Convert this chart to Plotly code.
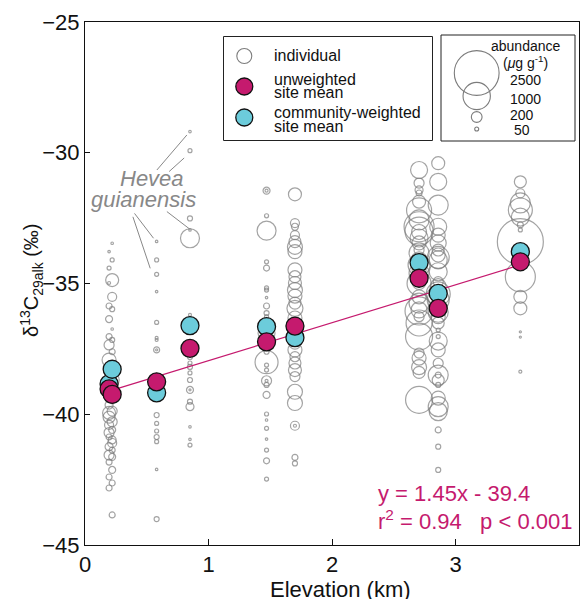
import plotly.graph_objects as go

# ---------------- data ----------------
site_elev = [0.195, 0.22, 0.58, 0.85, 1.47, 1.70, 2.705, 2.86, 3.525]
mean_unweighted = [-39.03, -39.24, -38.76, -37.48, -37.23, -36.63, -34.80, -35.95, -34.17]
mean_weighted = [-38.84, -38.28, -39.18, -36.61, -36.65, -37.07, -34.20, -35.38, -33.78]

fit_slope = 1.45
fit_intercept = -39.4

d13c_s1 = [-33.78, -34.41, -34.98, -35.86, -36.36, -37.03, -37.35, -37.93, -38.50, -39.26,
           -39.65, -40.11, -40.41, -40.87, -41.24, -41.56, -41.83, -42.40, -42.82, -39.95, -40.70]
abund_s1 = [30, 50, 36, 84, 104, 84, 179, 309, 127, 179, 127, 239, 152, 84, 127, 179, 84, 84, 84,
            273, 179]

d13c_s2 = [-33.46, -34.10, -34.87, -35.51, -35.98, -36.74, -37.16, -37.61, -38.23, -38.69,
           -39.45, -39.88, -40.29, -40.60, -40.98, -41.37, -41.63, -42.13, -42.63, -43.85, -41.10]
abund_s2 = [30, 50, 273, 152, 66, 30, 66, 84, 84, 309, 127, 179, 179, 104, 127, 84, 104, 104, 84,
            84, 152]

d13c_s3 = [-33.39, -34.10, -34.65, -35.31, -36.49, -37.08, -37.16, -37.54, -37.54, -40.03,
           -40.35, -40.64, -40.87, -41.05, -42.11, -44.01]
abund_s3 = [30, 50, 50, 30, 50, 36, 36, 84, 25, 66, 50, 50, 66, 50, 30, 66]

d13c_s4 = [-29.19, -29.92, -32.51, -32.95, -33.27, -36.20, -37.81, -38.04, -38.19, -38.42,
           -38.69, -39.07, -39.07, -39.52, -39.71, -40.48, -40.96, -41.18]
abund_s4 = [30, 50, 66, 30, 522, 36, 66, 50, 66, 50, 66, 104, 25, 66, 127, 30, 30, 50]

d13c_s5 = [-31.45, -31.45, -32.41, -32.98, -34.17, -34.41, -35.17, -35.25, -35.54, -35.86,
           -36.13, -36.27, -36.89, -37.61, -38.01, -38.12, -38.31, -38.72, -38.72, -38.88,
           -39.26, -39.99, -40.22, -40.54, -40.95, -41.37, -41.78, -42.48]
abund_s5 = [104, 36, 50, 522, 50, 84, 50, 50, 30, 84, 66, 50, 430, 66, 732, 50, 50, 179, 36, 66,
            104, 50, 30, 50, 30, 50, 84, 50]

d13c_s6 = [-31.59, -32.69, -32.83, -33.15, -33.40, -33.60, -33.78, -34.48, -34.74, -34.98,
           -35.25, -35.48, -35.75, -35.95, -36.32, -36.78, -37.28, -37.54, -37.80, -38.04,
           -38.31, -38.56, -39.14, -39.57, -40.44, -40.44, -41.65, -41.88]
abund_s6 = [273, 152, 104, 152, 239, 347, 309, 309, 239, 273, 347, 309, 239, 388, 309, 273, 239,
            309, 179, 239, 273, 179, 347, 347, 152, 36, 84, 66]

d13c_s7 = [-30.66, -31.16, -31.42, -31.54, -31.87, -32.57, -32.83, -33.03, -33.26, -33.45,
           -33.72, -33.83, -34.10, -34.29, -34.48, -34.98, -35.51, -35.75, -36.01, -36.27,
           -36.51, -37.03, -37.66, -37.85, -39.45, -32.20, -33.00, -35.00, -36.05, -38.20,
           -38.40, -34.60]
abund_s7 = [430, 179, 127, 84, 273, 571, 1185, 347, 475, 309, 179, 571, 388, 676, 309, 273, 309,
            571, 388, 179, 913, 977, 179, 309, 977, 850, 1050, 790, 1050, 347, 239, 571]

d13c_s8 = [-30.40, -31.11, -32.00, -32.83, -33.15, -33.45, -33.72, -33.91, -34.10, -34.55,
           -34.93, -35.12, -35.63, -36.27, -36.51, -36.78, -37.03, -37.54, -38.05, -38.50,
           -38.50, -38.88, -39.38, -39.71, -40.60, -41.24, -42.13, -34.00, -35.40, -36.10,
           -37.20, -39.90, -38.70]
abund_s8 = [273, 430, 571, 430, 309, 388, 239, 309, 475, 475, 179, 388, 676, 309, 239, 50, 50,
            309, 179, 571, 84, 66, 309, 571, 84, 66, 66, 676, 790, 571, 475, 475, 239]

d13c_s9 = [-31.11, -31.55, -31.92, -32.19, -32.46, -32.76, -32.95, -33.40, -34.74, -35.51,
           -35.95, -36.85, -37.05, -38.37]
abund_s9 = [239, 152, 571, 790, 475, 84, 50, 2628, 1185, 273, 273, 25, 25, 36]

individual_d13c = [d13c_s1, d13c_s2, d13c_s3, d13c_s4, d13c_s5, d13c_s6, d13c_s7, d13c_s8, d13c_s9]
individual_abund = [abund_s1, abund_s2, abund_s3, abund_s4, abund_s5, abund_s6, abund_s7, abund_s8, abund_s9]

legend_abund = [2500, 1000, 200, 50]

# ---------------- styling ----------------
FONT = "Liberation Sans, Arial, Helvetica, sans-serif"
MAGENTA = "#C51A6E"
CYAN = "#6CCCDB"
GRAY = "#7c7c7c"

W, H = 584, 599
L, R, T, B = 85, 579, 22, 545


def size_of(a):
    return max(0.95 * a ** 0.5 - 2.7, 2.0)


def px(x):
    return (x - L) / (R - L)


def py(y):
    return (B - y) / (B - T)


def text(x, y, t, size, color="#111", xanchor="center", angle=0):
    return dict(xref="paper", yref="paper", x=px(x), y=py(y), text=t, showarrow=False,
                xanchor=xanchor, yanchor="middle", textangle=angle,
                font=dict(family=FONT, size=size, color=color))


fig = go.Figure()

# individual leaves
xs, ys, ss = [], [], []
for e, dl, al in zip(site_elev, individual_d13c, individual_abund):
    for d, a in zip(dl, al):
        xs.append(e)
        ys.append(d)
        ss.append(size_of(a))
fig.add_trace(go.Scatter(
    x=xs, y=ys, mode="markers",
    marker=dict(symbol="circle-open", size=ss, color=GRAY, line=dict(width=1.2, color=GRAY)),
    hoverinfo="skip", showlegend=False))

# regression line
x0, x1 = min(site_elev), max(site_elev)
fig.add_trace(go.Scatter(
    x=[x0, x1], y=[fit_slope * x0 + fit_intercept, fit_slope * x1 + fit_intercept],
    mode="lines", line=dict(color=MAGENTA, width=1.3), showlegend=False, hoverinfo="skip"))

# community-weighted means
fig.add_trace(go.Scatter(
    x=site_elev, y=mean_weighted, mode="markers",
    marker=dict(size=18, color=CYAN, line=dict(width=1.3, color="#111")), showlegend=False))
# unweighted means
fig.add_trace(go.Scatter(
    x=site_elev, y=mean_unweighted, mode="markers",
    marker=dict(size=18, color=MAGENTA, line=dict(width=1.3, color="#111")), showlegend=False))

shapes = []
annotations = []

# Hevea guianensis pointer lines (data coordinates)
hevea_lines = [((0.582, -30.66), (0.825, -29.32)),
               ((0.681, -30.72), (0.803, -30.20)),
               ((0.663, -32.25), (0.851, -32.93)),
               ((0.401, -32.32), (0.555, -33.27)),
               ((0.388, -32.45), (0.528, -34.42))]
for (a, b) in hevea_lines:
    shapes.append(dict(type="line", xref="x", yref="y", x0=a[0], y0=a[1], x1=b[0], y1=b[1],
                       line=dict(color="#888888", width=1)))
annotations.append(text(152, 178, "<i>Hevea</i>", 22, "#888888"))
annotations.append(text(143, 199, "<i>guianensis</i>", 22, "#888888"))

# legend box 1
shapes.append(dict(type="rect", xref="paper", yref="paper", x0=px(223.5), x1=px(432.5),
                   y0=py(140.5), y1=py(36.5), line=dict(color="#222", width=1), fillcolor="white"))


def circle(cx, cy, d, fill, line, lw):
    r = d / 2
    return dict(type="circle", xref="paper", yref="paper", x0=px(cx - r), x1=px(cx + r),
                y0=py(cy + r), y1=py(cy - r), fillcolor=fill, line=dict(color=line, width=lw))


shapes.append(circle(244.3, 56, 15, "rgba(0,0,0,0)", GRAY, 1.1))
shapes.append(circle(244.3, 86.5, 17, MAGENTA, "#111", 1.3))
shapes.append(circle(244.3, 117.5, 17, CYAN, "#111", 1.3))

leg_txt = [("individual", 55), ("unweighted", 79), ("site mean", 92.5),
           ("community-weighted", 112), ("site mean", 126)]
for t, y in leg_txt:
    annotations.append(text(272, y, t, 16, xanchor="left"))

# legend box 2 (abundance)
shapes.append(dict(type="rect", xref="paper", yref="paper", x0=px(441), x1=px(575),
                   y0=py(141), y1=py(35), line=dict(color="#222", width=1), fillcolor="rgba(0,0,0,0)"))
leg2_cy = [73, 96, 117, 129]
for a, cy in zip(legend_abund, leg2_cy):
    shapes.append(circle(476.7, cy, size_of(a), "rgba(0,0,0,0)", GRAY, 1.1))
annotations.append(text(526, 46, "abundance", 14))
annotations.append(text(525, 62, "(<i>μ</i>g g<sup>-1</sup>)", 14))
leg2_ty = [80, 99, 115, 130]
leg2_tx = [525, 525, 522, 522]
for a, tx, ty in zip(legend_abund, leg2_tx, leg2_ty):
    annotations.append(text(tx, ty, str(a), 14))

# equation
annotations.append(text(376, 493, "y = %.2fx - %.1f" % (fit_slope, -fit_intercept), 22, MAGENTA, "left"))
annotations.append(text(376, 520, "r<sup>2</sup> = 0.94\u00a0\u00a0\u00a0p < 0.001", 22, MAGENTA, "left"))

# axis titles
annotations.append(text(31, 280, "δ<sup>13</sup>C<sub>29alk</sub> (‰)", 20, angle=-90))
annotations.append(text(340, 589, "Elevation (km)", 22))

fig.update_layout(
    width=W, height=H,
    margin=dict(l=L, r=W - R, t=T, b=H - B, pad=0),
    paper_bgcolor="white", plot_bgcolor="white",
    shapes=shapes, annotations=annotations,
    font=dict(family=FONT, size=22, color="#111"),
    showlegend=False,
)
fig.update_xaxes(range=[0, 4], tickvals=[0, 1, 2, 3], ticks="inside", ticklen=6, tickwidth=1,
                 tickcolor="#111", showline=True, linecolor="#111", linewidth=1, mirror=True,
                 showgrid=False, zeroline=False, tickfont=dict(size=22))
fig.update_yaxes(range=[-45, -25], tickvals=[-45, -40, -35, -30, -25], ticks="inside", ticklen=5,
                 tickwidth=1, tickcolor="#111", showline=True, linecolor="#111", linewidth=1,
                 mirror=True, showgrid=False, zeroline=False, tickfont=dict(size=22))

fig.write_html("out.html")
